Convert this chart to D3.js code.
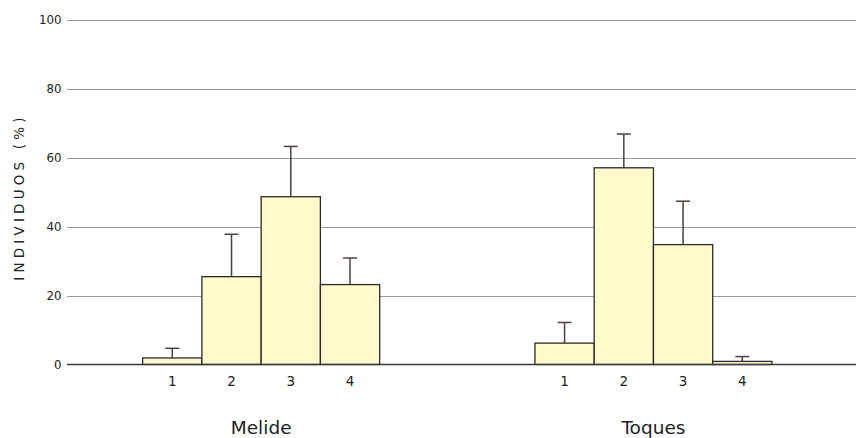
<!DOCTYPE html>
<html><head><meta charset="utf-8">
<script src="https://cdn.jsdelivr.net/npm/d3@7"></script>
<style>body{margin:0;background:#fff}svg{display:block}text{font-family:"DejaVu Sans",Verdana,sans-serif}</style>
</head><body><svg id="c" width="856" height="438"></svg>
<script>
const groups = ["Melide", "Toques"];
const categories = ["1", "2", "3", "4"];
const melideValues = [1.9, 25.5, 48.7, 23.2];
const melideErrors = [4.7, 37.8, 63.3, 30.9];
const toquesValues = [6.2, 57.1, 34.8, 0.9];
const toquesErrors = [12.2, 66.9, 47.4, 2.3];
const yTicks = [0, 20, 40, 60, 80, 100];
const yTitle = "INDIVIDUOS (%)";

const series = [
  {group: "Melide", values: melideValues, errors: melideErrors},
  {group: "Toques", values: toquesValues, errors: toquesErrors}
];

const svg = d3.select("#c");
const y = d3.scaleLinear().domain([0, 100]).range([364.5, 20]);
const x0 = d3.scaleBand().domain(groups).range([65, 849.6]);
const barW = 59.25;
const x1 = d3.scaleBand().domain(categories).range([-2 * barW, 2 * barW]);

// gridlines
svg.append("g").selectAll("line").data(yTicks.filter(d => d > 0)).join("line")
  .attr("x1", 67).attr("x2", 856)
  .attr("y1", d => Math.round(y(d)) + 0.5).attr("y2", d => Math.round(y(d)) + 0.5)
  .attr("stroke", "#9a9a9a").attr("stroke-width", 1);

// y tick labels
svg.append("g").selectAll("text").data(yTicks).join("text")
  .attr("x", 61.5).attr("y", d => y(d)).attr("dy", "0.36em")
  .attr("text-anchor", "end").attr("font-size", 11.8).attr("fill", "#222")
  .text(d => d);

// y title
svg.append("text")
  .attr("transform", "translate(24,197) rotate(-90)")
  .attr("text-anchor", "middle").attr("font-size", 13.5).attr("letter-spacing", 4.2)
  .attr("fill", "#222").text(yTitle);

const g = svg.append("g").selectAll("g").data(series).join("g")
  .attr("transform", d => `translate(${x0(d.group) + x0.bandwidth() / 2},0)`);

g.each(function(s) {
  const sel = d3.select(this);
  const data = categories.map((c, i) => ({c, v: s.values[i], e: s.errors[i]}));
  sel.selectAll("line.err").data(data).join("line").attr("class", "err")
    .attr("x1", d => x1(d.c) + barW / 2).attr("x2", d => x1(d.c) + barW / 2)
    .attr("y1", d => y(d.v)).attr("y2", d => y(d.e))
    .attr("stroke", "#4a423e").attr("stroke-width", 1.5);
  sel.selectAll("line.cap").data(data).join("line").attr("class", "cap")
    .attr("x1", d => x1(d.c) + barW / 2 - 7).attr("x2", d => x1(d.c) + barW / 2 + 7)
    .attr("y1", d => y(d.e)).attr("y2", d => y(d.e))
    .attr("stroke", "#4a423e").attr("stroke-width", 1.5);
  sel.selectAll("rect").data(data).join("rect")
    .attr("x", d => x1(d.c)).attr("width", barW)
    .attr("y", d => y(d.v)).attr("height", d => y(0) - y(d.v))
    .attr("fill", "#fff9cc").attr("stroke", "#2e2a28").attr("stroke-width", 1.3);
  sel.selectAll("text.cat").data(data).join("text").attr("class", "cat")
    .attr("x", d => x1(d.c) + barW / 2).attr("y", 386)
    .attr("text-anchor", "middle").attr("font-size", 13.5).attr("fill", "#222")
    .text(d => d.c);
});

// baseline
svg.append("line").attr("x1", 67).attr("x2", 856)
  .attr("y1", y(0)).attr("y2", y(0))
  .attr("stroke", "#3a3a3a").attr("stroke-width", 1.5);

// group labels
svg.append("g").selectAll("text").data(groups).join("text")
  .attr("x", d => x0(d) + x0.bandwidth() / 2).attr("y", 434)
  .attr("text-anchor", "middle").attr("font-size", 18.5).attr("fill", "#222")
  .text(d => d);
</script></body></html>
